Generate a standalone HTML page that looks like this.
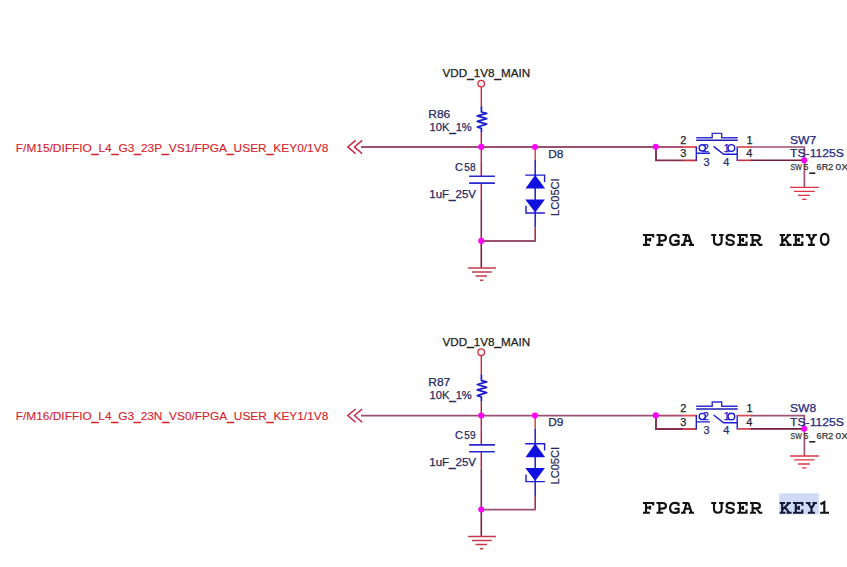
<!DOCTYPE html>
<html><head><meta charset="utf-8">
<style>
html,body{margin:0;padding:0;background:#fff;width:847px;height:567px;overflow:hidden}
svg{display:block}
.s text,text.s,text{font-family:"Liberation Sans",sans-serif;paint-order:stroke}
.m{font-family:"Liberation Mono",monospace;font-weight:bold;font-size:21px;fill:#111}
</style></head><body>
<svg width="847" height="567" viewBox="0 0 847 567">
<rect width="847" height="567" fill="#fff"/>
<rect x="779.3" y="493.3" width="39.6" height="21.1" fill="#d0dcf6"/>
<g transform="translate(0,0)">
<path d="M361 147H656" stroke="#9a5070" stroke-width="1.9" fill="none"/>
<path d="M355.6 140.4L347.8 146.9L355.6 153.7M362.2 140.4L354.4 146.9L362.2 153.7" stroke="#cc2040" stroke-width="1.4" fill="none"/>
<circle cx="481.2" cy="83.6" r="3.3" stroke="#d8283c" stroke-width="1.3" fill="none"/>
<path d="M481.3 87V106.4" stroke="#d8283c" stroke-width="1.4"/>
<path d="M481.4 106.2V112L486.7 113.3L477.3 115.9L486.7 118.7L477.3 121.3L486.7 124.1L477.3 127L481.4 128.4V132.4" stroke="#1c1cd0" stroke-width="1.75" fill="none" stroke-linejoin="round"/>
<path d="M481.3 132.2V147" stroke="#b8203a" stroke-width="1.4"/>
<path d="M481.3 147V160.6" stroke="#b82a50" stroke-width="1.5"/><path d="M481.3 160.6V176.3M481.3 183.1V200" stroke="#b81e4c" stroke-width="1.5"/><path d="M481.3 200V241" stroke="#7e2a50" stroke-width="1.6"/>
<path d="M469.1 176.3H494.9M469.1 183.1H494.9" stroke="#2828d0" stroke-width="1.6"/>
<path d="M535.2 147V160" stroke="#d03a3a" stroke-width="1.4"/>
<path d="M535.2 160V227.3" stroke="#2a2ac4" stroke-width="1.6"/>
<path d="M535.2 227.3V241" stroke="#a83044" stroke-width="1.6"/>
<path d="M525.2 175.1H544.6V182M544.9 213H526V205.8" stroke="#1c1cd8" stroke-width="1.4" fill="none"/>
<path d="M535.2 175L545.1 188.6H525.5Z M525.3 199.4H544.9L535.2 212.4Z" fill="#1010e0"/>
<path d="M481.3 241H535.9" stroke="#9a5070" stroke-width="1.9"/>
<path d="M481.3 241V268" stroke="#7a2040" stroke-width="1.6"/>
<path d="M468.2 268H496M472 272H491.7M475.5 275.9H487M480 280.2H483.3" stroke="#c23a48" stroke-width="1.5"/>
<path d="M656 147V160.4H683" stroke="#84304e" stroke-width="1.9" fill="none"/><path d="M656 147H683" stroke="#aa4a6e" stroke-width="1.9"/>
<path d="M683 147H696.5" stroke="#e04a50" stroke-width="1.8"/><path d="M683 160.4H696.5" stroke="#c83040" stroke-width="1.8"/>
<path d="M696.3 146.5V161M696.3 153.3H710M713.6 146.4L723.6 154.2H737.3M737.2 146.5V161" stroke="#1c1cd8" stroke-width="1.4" fill="none"/>
<path d="M696.2 137.7H712.2V133.4H721.7V137.7H737.7" stroke="#3030d0" stroke-width="1.4" fill="none"/><path d="M696.2 140.3H737.7" stroke="#1c1cb4" stroke-width="1.5" fill="none"/>
<circle cx="702.3" cy="147.9" r="3.15" stroke="#1c1cd8" stroke-width="1.4" fill="none"/>
<circle cx="731.4" cy="147.9" r="3.3" stroke="#1c1cd8" stroke-width="1.4" fill="none"/>
<path d="M737.2 147H752" stroke="#d84850" stroke-width="1.7"/><path d="M737.2 160.3H752" stroke="#c83040" stroke-width="1.6"/>
<path d="M751 147H804.4V187.4" stroke="#9e5274" stroke-width="1.7" fill="none"/><path d="M751 160.3H804.4" stroke="#741c40" stroke-width="1.6" fill="none"/>
<path d="M790.1 187.4H818.8M794.1 191.3H814.6M798.1 195.4H809.8M802.2 199.3H806.5" stroke="#dc3444" stroke-width="1.3"/>
<circle cx="481.3" cy="146.9" r="3.05" fill="#ff00ff"/>
<circle cx="535.0" cy="147" r="3.05" fill="#ff00ff"/>
<circle cx="481.3" cy="240.9" r="3.05" fill="#ff00ff"/>
<circle cx="655.8" cy="146.8" r="3.05" fill="#ff00ff"/>
<circle cx="804.2" cy="160.2" r="3.05" fill="#ff00ff"/>
<g class="s">
<text x="680.2" y="143.6" fill="#1e1e2e" stroke="#1e1e2e" stroke-width="0.25" font-size="11" >2</text>
<text x="680.2" y="157.4" fill="#1e1e2e" stroke="#1e1e2e" stroke-width="0.25" font-size="11" >3</text>
<text x="746.5" y="143.6" fill="#1e1e2e" stroke="#1e1e2e" stroke-width="0.25" font-size="11" >1</text>
<text x="746.2" y="157.4" fill="#1e1e2e" stroke="#1e1e2e" stroke-width="0.25" font-size="11" >4</text>
<text x="703.6" y="165.5" fill="#22307a" stroke="#22307a" stroke-width="0.25" font-size="11" >3</text>
<text x="723.2" y="165.5" fill="#22307a" stroke="#22307a" stroke-width="0.25" font-size="11" >4</text>
<text x="702.5" y="151.6" fill="#2020c8" stroke="#2020c8" stroke-width="0.25" font-size="11.5" >2</text>
<text x="723.4" y="151.6" fill="#2020c8" stroke="#2020c8" stroke-width="0.25" font-size="11.5" >1</text>
<text x="442.5" y="77.1" fill="#222" stroke="#222" stroke-width="0.25" font-size="11" textLength="87.6" lengthAdjust="spacingAndGlyphs" >VDD<tspan dy="0.8" stroke-width="0.55">_</tspan><tspan dy="-0.8">1V8</tspan><tspan dy="0.8" stroke-width="0.55">_</tspan><tspan dy="-0.8">MAIN</tspan></text>
<text x="428.3" y="117.8" fill="#262a62" stroke="#262a62" stroke-width="0.25" font-size="11" textLength="22.0" lengthAdjust="spacingAndGlyphs" >R86</text>
<text x="429.6" y="130.8" fill="#262a62" stroke="#262a62" stroke-width="0.25" font-size="11" textLength="42.2" lengthAdjust="spacingAndGlyphs" >10K<tspan dy="0.8" stroke-width="0.55">_</tspan><tspan dy="-0.8">1%</tspan></text>
<text x="454.9" y="170.7" fill="#262a62" stroke="#262a62" stroke-width="0.25" font-size="11" textLength="8.0" lengthAdjust="spacingAndGlyphs" >C</text>
<text x="464.3" y="170.7" fill="#262a62" stroke="#262a62" stroke-width="0.25" font-size="11" textLength="11.2" lengthAdjust="spacingAndGlyphs" >58</text>
<text x="429.3" y="197.7" fill="#262a62" stroke="#262a62" stroke-width="0.25" font-size="11" textLength="46.7" lengthAdjust="spacingAndGlyphs" >1uF<tspan dy="0.8" stroke-width="0.55">_</tspan><tspan dy="-0.8">25V</tspan></text>
<text x="548.2" y="157.8" fill="#262a62" stroke="#262a62" stroke-width="0.25" font-size="11" textLength="15.2" lengthAdjust="spacingAndGlyphs" >D8</text>
<text transform="translate(559.4,215.9) rotate(-90)" fill="#262a62" stroke="#262a62" stroke-width="0.25" font-size="11" textLength="37.5" lengthAdjust="spacingAndGlyphs">LC05CI</text>
<text x="790.0" y="143.6" fill="#262a80" stroke="#262a80" stroke-width="0.25" font-size="11" textLength="26.2" lengthAdjust="spacingAndGlyphs" >SW7</text>
<text x="790.0" y="157.4" fill="#262a80" stroke="#262a80" stroke-width="0.25" font-size="11" textLength="54.0" lengthAdjust="spacingAndGlyphs" >TS-1125S</text>
<text x="790.5" y="170" fill="#363636" stroke="#363636" stroke-width="0.25" font-size="8.8" textLength="11.2" lengthAdjust="spacingAndGlyphs" >SW</text>
<text x="803.8" y="170" fill="#363636" stroke="#363636" stroke-width="0.25" font-size="8.8" textLength="4.6" lengthAdjust="spacingAndGlyphs" >5</text>
<path d="M809.3 173.2H815.3" stroke="#151515" stroke-width="1.5"/>
<text x="816.6" y="170" fill="#363636" stroke="#363636" stroke-width="0.25" font-size="8.8" textLength="16.6" lengthAdjust="spacingAndGlyphs" >6R2</text>
<text x="835.6" y="170" fill="#363636" stroke="#363636" stroke-width="0.25" font-size="8.8" textLength="12.4" lengthAdjust="spacingAndGlyphs" >0X</text>
<text x="15.8" y="151.8" fill="#d8202a" stroke="#d8202a" stroke-width="0.1" font-size="11" textLength="312.5" lengthAdjust="spacingAndGlyphs" >F/M15/DIFFIO<tspan dy="0.8" stroke-width="0.55">_</tspan><tspan dy="-0.8">L4</tspan><tspan dy="0.8" stroke-width="0.55">_</tspan><tspan dy="-0.8">G3</tspan><tspan dy="0.8" stroke-width="0.55">_</tspan><tspan dy="-0.8">23P</tspan><tspan dy="0.8" stroke-width="0.55">_</tspan><tspan dy="-0.8">VS1/FPGA</tspan><tspan dy="0.8" stroke-width="0.55">_</tspan><tspan dy="-0.8">USER</tspan><tspan dy="0.8" stroke-width="0.55">_</tspan><tspan dy="-0.8">KEY0/1V8</tspan></text>
</g>
</g>
<g transform="translate(0,268.6)">
<path d="M361 147H656" stroke="#9a5070" stroke-width="1.9" fill="none"/>
<path d="M355.6 140.4L347.8 146.9L355.6 153.7M362.2 140.4L354.4 146.9L362.2 153.7" stroke="#cc2040" stroke-width="1.4" fill="none"/>
<circle cx="481.2" cy="83.6" r="3.3" stroke="#d8283c" stroke-width="1.3" fill="none"/>
<path d="M481.3 87V106.4" stroke="#d8283c" stroke-width="1.4"/>
<path d="M481.4 106.2V112L486.7 113.3L477.3 115.9L486.7 118.7L477.3 121.3L486.7 124.1L477.3 127L481.4 128.4V132.4" stroke="#1c1cd0" stroke-width="1.75" fill="none" stroke-linejoin="round"/>
<path d="M481.3 132.2V147" stroke="#b8203a" stroke-width="1.4"/>
<path d="M481.3 147V160.6" stroke="#b82a50" stroke-width="1.5"/><path d="M481.3 160.6V176.3M481.3 183.1V200" stroke="#b81e4c" stroke-width="1.5"/><path d="M481.3 200V241" stroke="#7e2a50" stroke-width="1.6"/>
<path d="M469.1 176.3H494.9M469.1 183.1H494.9" stroke="#2828d0" stroke-width="1.6"/>
<path d="M535.2 147V160" stroke="#d03a3a" stroke-width="1.4"/>
<path d="M535.2 160V227.3" stroke="#2a2ac4" stroke-width="1.6"/>
<path d="M535.2 227.3V241" stroke="#a83044" stroke-width="1.6"/>
<path d="M525.2 175.1H544.6V182M544.9 213H526V205.8" stroke="#1c1cd8" stroke-width="1.4" fill="none"/>
<path d="M535.2 175L545.1 188.6H525.5Z M525.3 199.4H544.9L535.2 212.4Z" fill="#1010e0"/>
<path d="M481.3 241H535.9" stroke="#9a5070" stroke-width="1.9"/>
<path d="M481.3 241V268" stroke="#7a2040" stroke-width="1.6"/>
<path d="M468.2 268H496M472 272H491.7M475.5 275.9H487M480 280.2H483.3" stroke="#c23a48" stroke-width="1.5"/>
<path d="M656 147V160.4H683" stroke="#84304e" stroke-width="1.9" fill="none"/><path d="M656 147H683" stroke="#aa4a6e" stroke-width="1.9"/>
<path d="M683 147H696.5" stroke="#e04a50" stroke-width="1.8"/><path d="M683 160.4H696.5" stroke="#c83040" stroke-width="1.8"/>
<path d="M696.3 146.5V161M696.3 153.3H710M713.6 146.4L723.6 154.2H737.3M737.2 146.5V161" stroke="#1c1cd8" stroke-width="1.4" fill="none"/>
<path d="M696.2 137.7H712.2V133.4H721.7V137.7H737.7" stroke="#3030d0" stroke-width="1.4" fill="none"/><path d="M696.2 140.3H737.7" stroke="#1c1cb4" stroke-width="1.5" fill="none"/>
<circle cx="702.3" cy="147.9" r="3.15" stroke="#1c1cd8" stroke-width="1.4" fill="none"/>
<circle cx="731.4" cy="147.9" r="3.3" stroke="#1c1cd8" stroke-width="1.4" fill="none"/>
<path d="M737.2 147H752" stroke="#d84850" stroke-width="1.7"/><path d="M737.2 160.3H752" stroke="#c83040" stroke-width="1.6"/>
<path d="M751 147H804.4V187.4" stroke="#9e5274" stroke-width="1.7" fill="none"/><path d="M751 160.3H804.4" stroke="#741c40" stroke-width="1.6" fill="none"/>
<path d="M790.1 187.4H818.8M794.1 191.3H814.6M798.1 195.4H809.8M802.2 199.3H806.5" stroke="#dc3444" stroke-width="1.3"/>
<circle cx="481.3" cy="146.9" r="3.05" fill="#ff00ff"/>
<circle cx="535.0" cy="147" r="3.05" fill="#ff00ff"/>
<circle cx="481.3" cy="240.9" r="3.05" fill="#ff00ff"/>
<circle cx="655.8" cy="146.8" r="3.05" fill="#ff00ff"/>
<circle cx="804.2" cy="160.2" r="3.05" fill="#ff00ff"/>
<g class="s">
<text x="680.2" y="143.6" fill="#1e1e2e" stroke="#1e1e2e" stroke-width="0.25" font-size="11" >2</text>
<text x="680.2" y="157.4" fill="#1e1e2e" stroke="#1e1e2e" stroke-width="0.25" font-size="11" >3</text>
<text x="746.5" y="143.6" fill="#1e1e2e" stroke="#1e1e2e" stroke-width="0.25" font-size="11" >1</text>
<text x="746.2" y="157.4" fill="#1e1e2e" stroke="#1e1e2e" stroke-width="0.25" font-size="11" >4</text>
<text x="703.6" y="165.5" fill="#22307a" stroke="#22307a" stroke-width="0.25" font-size="11" >3</text>
<text x="723.2" y="165.5" fill="#22307a" stroke="#22307a" stroke-width="0.25" font-size="11" >4</text>
<text x="702.5" y="151.6" fill="#2020c8" stroke="#2020c8" stroke-width="0.25" font-size="11.5" >2</text>
<text x="723.4" y="151.6" fill="#2020c8" stroke="#2020c8" stroke-width="0.25" font-size="11.5" >1</text>
<text x="442.5" y="77.1" fill="#222" stroke="#222" stroke-width="0.25" font-size="11" textLength="87.6" lengthAdjust="spacingAndGlyphs" >VDD<tspan dy="0.8" stroke-width="0.55">_</tspan><tspan dy="-0.8">1V8</tspan><tspan dy="0.8" stroke-width="0.55">_</tspan><tspan dy="-0.8">MAIN</tspan></text>
<text x="428.3" y="117.8" fill="#262a62" stroke="#262a62" stroke-width="0.25" font-size="11" textLength="22.0" lengthAdjust="spacingAndGlyphs" >R87</text>
<text x="429.6" y="130.8" fill="#262a62" stroke="#262a62" stroke-width="0.25" font-size="11" textLength="42.2" lengthAdjust="spacingAndGlyphs" >10K<tspan dy="0.8" stroke-width="0.55">_</tspan><tspan dy="-0.8">1%</tspan></text>
<text x="454.9" y="170.7" fill="#262a62" stroke="#262a62" stroke-width="0.25" font-size="11" textLength="8.0" lengthAdjust="spacingAndGlyphs" >C</text>
<text x="464.3" y="170.7" fill="#262a62" stroke="#262a62" stroke-width="0.25" font-size="11" textLength="11.2" lengthAdjust="spacingAndGlyphs" >59</text>
<text x="429.3" y="197.7" fill="#262a62" stroke="#262a62" stroke-width="0.25" font-size="11" textLength="46.7" lengthAdjust="spacingAndGlyphs" >1uF<tspan dy="0.8" stroke-width="0.55">_</tspan><tspan dy="-0.8">25V</tspan></text>
<text x="548.2" y="157.8" fill="#262a62" stroke="#262a62" stroke-width="0.25" font-size="11" textLength="15.2" lengthAdjust="spacingAndGlyphs" >D9</text>
<text transform="translate(559.4,215.9) rotate(-90)" fill="#262a62" stroke="#262a62" stroke-width="0.25" font-size="11" textLength="37.5" lengthAdjust="spacingAndGlyphs">LC05CI</text>
<text x="790.0" y="143.6" fill="#262a80" stroke="#262a80" stroke-width="0.25" font-size="11" textLength="26.2" lengthAdjust="spacingAndGlyphs" >SW8</text>
<text x="790.0" y="157.4" fill="#262a80" stroke="#262a80" stroke-width="0.25" font-size="11" textLength="54.0" lengthAdjust="spacingAndGlyphs" >TS-1125S</text>
<text x="790.5" y="170" fill="#363636" stroke="#363636" stroke-width="0.25" font-size="8.8" textLength="11.2" lengthAdjust="spacingAndGlyphs" >SW</text>
<text x="803.8" y="170" fill="#363636" stroke="#363636" stroke-width="0.25" font-size="8.8" textLength="4.6" lengthAdjust="spacingAndGlyphs" >5</text>
<path d="M809.3 173.2H815.3" stroke="#151515" stroke-width="1.5"/>
<text x="816.6" y="170" fill="#363636" stroke="#363636" stroke-width="0.25" font-size="8.8" textLength="16.6" lengthAdjust="spacingAndGlyphs" >6R2</text>
<text x="835.6" y="170" fill="#363636" stroke="#363636" stroke-width="0.25" font-size="8.8" textLength="12.4" lengthAdjust="spacingAndGlyphs" >0X</text>
<text x="15.8" y="151.8" fill="#d8202a" stroke="#d8202a" stroke-width="0.1" font-size="11" textLength="312.5" lengthAdjust="spacingAndGlyphs" >F/M16/DIFFIO<tspan dy="0.8" stroke-width="0.55">_</tspan><tspan dy="-0.8">L4</tspan><tspan dy="0.8" stroke-width="0.55">_</tspan><tspan dy="-0.8">G3</tspan><tspan dy="0.8" stroke-width="0.55">_</tspan><tspan dy="-0.8">23N</tspan><tspan dy="0.8" stroke-width="0.55">_</tspan><tspan dy="-0.8">VS0/FPGA</tspan><tspan dy="0.8" stroke-width="0.55">_</tspan><tspan dy="-0.8">USER</tspan><tspan dy="0.8" stroke-width="0.55">_</tspan><tspan dy="-0.8">KEY1/1V8</tspan></text>
</g>
</g>
<g fill="none" stroke="#121212" stroke-width="2.15" stroke-linejoin="miter"><path transform="translate(643.0,245.8)" d="M0 -10.8H10.2V-8.2M3 -10.8V-1M0 -1H6.9M3 -6.2H7.1M7.1 -8V-4.4"/><path transform="translate(656.5,245.8)" d="M0 -10.8H6C8.5 -10.8 9.5 -9.6 9.5 -8C9.5 -6.3 8.5 -5.1 6 -5.1H2.9M2.9 -10.8V-1M0 -1H6.7"/><path transform="translate(669.1,245.8)" d="M9.4 -7.9V-10.2C8.4 -10.8 7 -10.9 5.6 -10.9C2.8 -10.9 1 -8.8 1 -5.9C1 -2.9 2.8 -0.9 5.6 -0.9C7.2 -0.9 8.6 -1.2 9.5 -1.8V-5M5.4 -5H10.5"/><path transform="translate(681.0,245.8)" d="M1.5 -10.8H7.3M5.6 -10.8L2.7 -1M7.3 -11.2L10.6 -1M3.8 -5.0H9.2M0 -1H4.7M7.9 -1H13"/><path transform="translate(711.2,245.8)" d="M0 -10.8H5M7.8 -10.8H12.4M2.8 -10.8V-4.5C2.8 -2.2 4.4 -1 6.6 -1C8.8 -1 10.4 -2.2 10.4 -4.5V-10.8"/><path transform="translate(725.6,245.8)" d="M8.2 -8.0V-10.8M8.2 -9.9C7.2 -10.6 6 -10.9 4.6 -10.9C2.5 -10.9 1 -9.8 1 -8.2C1 -6.4 2.6 -5.9 4.6 -5.6C6.8 -5.3 8.2 -4.6 8.2 -3C8.2 -1.6 6.7 -0.9 4.6 -0.9C3 -0.9 1.8 -1.3 1 -2M1 -1V-4.4"/><path transform="translate(737.2,245.8)" d="M0 -10.8H9.4V-8.1M2.8 -10.8V-1M2.8 -5.9H5.8M5.8 -8V-3.8M0 -1H9.3V-4.2"/><path transform="translate(750.0,245.8)" d="M0 -10.8H6.5C8.7 -10.8 9.9 -9.7 9.9 -8.1C9.9 -6.5 8.7 -5.4 6.5 -5.4H2.6M2.6 -10.8V-1M0 -1H6M6.3 -5.6L9.6 -1H12.4"/><path transform="translate(779.7,245.8)" d="M0 -10.8H5.3M2.5 -10.8V-1M6.9 -10.8H11.2M3.3 -4.6L9.3 -10.8M5.3 -6.6L9.6 -1M0 -1H5.8M6.9 -1H11.9"/><path transform="translate(793.0,245.8)" d="M0 -10.8H9.4V-8.1M2.8 -10.8V-1M2.8 -5.9H5.8M5.8 -8V-3.8M0 -1H9.3V-4.2"/><path transform="translate(805.9,245.8)" d="M0 -10.8H4.6M6.6 -10.8H11M2.3 -10.8L5.6 -5.4M8.8 -10.8L5.6 -5.4M5.6 -5.6V-1M2 -1H9"/><path transform="translate(819.9,245.8)" d="M4.8 -12C2.6 -12 1 -10.2 1 -6.5C1 -2.8 2.6 -1 4.8 -1C7 -1 8.6 -2.8 8.6 -6.5C8.6 -10.2 7 -12 4.8 -12Z"/></g>
<g fill="none" stroke="#121212" stroke-width="2.15" stroke-linejoin="miter"><path transform="translate(643.0,513.8)" d="M0 -10.8H10.2V-8.2M3 -10.8V-1M0 -1H6.9M3 -6.2H7.1M7.1 -8V-4.4"/><path transform="translate(656.5,513.8)" d="M0 -10.8H6C8.5 -10.8 9.5 -9.6 9.5 -8C9.5 -6.3 8.5 -5.1 6 -5.1H2.9M2.9 -10.8V-1M0 -1H6.7"/><path transform="translate(669.1,513.8)" d="M9.4 -7.9V-10.2C8.4 -10.8 7 -10.9 5.6 -10.9C2.8 -10.9 1 -8.8 1 -5.9C1 -2.9 2.8 -0.9 5.6 -0.9C7.2 -0.9 8.6 -1.2 9.5 -1.8V-5M5.4 -5H10.5"/><path transform="translate(681.0,513.8)" d="M1.5 -10.8H7.3M5.6 -10.8L2.7 -1M7.3 -11.2L10.6 -1M3.8 -5.0H9.2M0 -1H4.7M7.9 -1H13"/><path transform="translate(711.2,513.8)" d="M0 -10.8H5M7.8 -10.8H12.4M2.8 -10.8V-4.5C2.8 -2.2 4.4 -1 6.6 -1C8.8 -1 10.4 -2.2 10.4 -4.5V-10.8"/><path transform="translate(725.6,513.8)" d="M8.2 -8.0V-10.8M8.2 -9.9C7.2 -10.6 6 -10.9 4.6 -10.9C2.5 -10.9 1 -9.8 1 -8.2C1 -6.4 2.6 -5.9 4.6 -5.6C6.8 -5.3 8.2 -4.6 8.2 -3C8.2 -1.6 6.7 -0.9 4.6 -0.9C3 -0.9 1.8 -1.3 1 -2M1 -1V-4.4"/><path transform="translate(737.2,513.8)" d="M0 -10.8H9.4V-8.1M2.8 -10.8V-1M2.8 -5.9H5.8M5.8 -8V-3.8M0 -1H9.3V-4.2"/><path transform="translate(750.0,513.8)" d="M0 -10.8H6.5C8.7 -10.8 9.9 -9.7 9.9 -8.1C9.9 -6.5 8.7 -5.4 6.5 -5.4H2.6M2.6 -10.8V-1M0 -1H6M6.3 -5.6L9.6 -1H12.4"/><path transform="translate(779.7,513.8)" d="M0 -10.8H5.3M2.5 -10.8V-1M6.9 -10.8H11.2M3.3 -4.6L9.3 -10.8M5.3 -6.6L9.6 -1M0 -1H5.8M6.9 -1H11.9" stroke="#14183a"/><path transform="translate(793.0,513.8)" d="M0 -10.8H9.4V-8.1M2.8 -10.8V-1M2.8 -5.9H5.8M5.8 -8V-3.8M0 -1H9.3V-4.2" stroke="#14183a"/><path transform="translate(805.9,513.8)" d="M0 -10.8H4.6M6.6 -10.8H11M2.3 -10.8L5.6 -5.4M8.8 -10.8L5.6 -5.4M5.6 -5.6V-1M2 -1H9" stroke="#14183a"/><path transform="translate(820.1,513.8)" d="M0.4 -9.6L4.2 -11.8V-1M0 -1H8.9"/></g>
</svg>
</body></html>
